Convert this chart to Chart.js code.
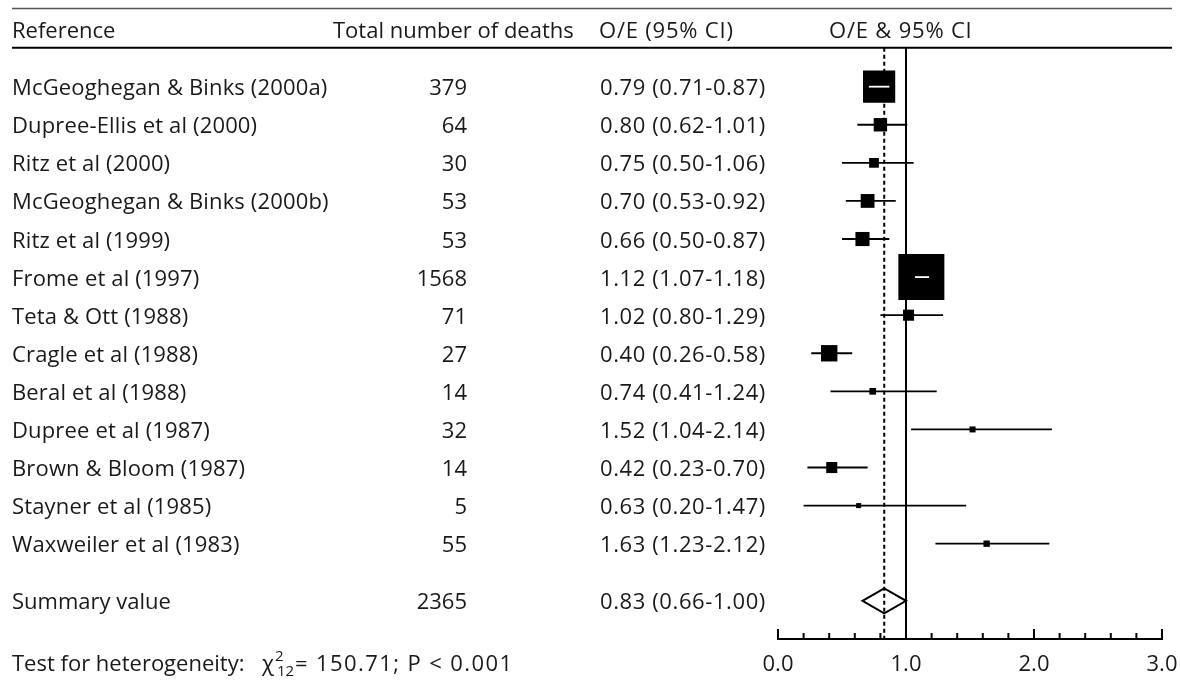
<!DOCTYPE html>
<html>
<head>
<meta charset="utf-8">
<title>Forest plot O/E</title>
<style>
  html, body { margin: 0; padding: 0; background: #fff; }
  #wrap { width: 1180px; height: 682px; }
</style>
</head>
<body>
<div id="wrap">
  <canvas id="forestChart" width="1180" height="682"></canvas>
</div>

<script src="https://cdn.jsdelivr.net/npm/chart.js"></script>

<script>
  // study data
  const studies = [
    'McGeoghegan & Binks (2000a)', 'Dupree-Ellis et al (2000)', 'Ritz et al (2000)',
    'McGeoghegan & Binks (2000b)', 'Ritz et al (1999)', 'Frome et al (1997)',
    'Teta & Ott (1988)', 'Cragle et al (1988)', 'Beral et al (1988)',
    'Dupree et al (1987)', 'Brown & Bloom (1987)', 'Stayner et al (1985)',
    'Waxweiler et al (1983)'
  ];
  const deaths = [379, 64, 30, 53, 53, 1568, 71, 27, 14, 32, 14, 5, 55];
  const oe    = [0.79, 0.80, 0.75, 0.70, 0.66, 1.12, 1.02, 0.40, 0.74, 1.52, 0.42, 0.63, 1.63];
  const lower = [0.71, 0.62, 0.50, 0.53, 0.50, 1.07, 0.80, 0.26, 0.41, 1.04, 0.23, 0.20, 1.23];
  const upper = [0.87, 1.01, 1.06, 0.92, 0.87, 1.18, 1.29, 0.58, 1.24, 2.14, 0.70, 1.47, 2.12];
  // relative box weight (%), largest study = 100
  const weights = [49.0, 8.5, 4.5, 9.0, 9.4, 100, 5.8, 12.7, 2.1, 1.7, 5.8, 1.2, 1.9];

  const summaryLabel = 'Summary value';
  const summaryDeaths = 2365;
  const summaryOE = [0.83, 0.66, 1.00]; // estimate, lower, upper

  const headers = ['Reference', 'Total number of deaths', 'O/E (95% CI)', 'O/E & 95% CI'];
  const majorTicks = [0, 1, 2, 3];
  const tickLabels = ['0.0', '1.0', '2.0', '3.0'];
  const heterogeneity = { label: 'Test for heterogeneity:', df: '12', rest: '= 150.71; P < 0.001' };

  const FONT = '"Open Sans", "Noto Sans", sans-serif';
  const TEXT = '#1a1a1a';
  const BOX_MAX = 46;            // px side of the heaviest study
  const summaryRow = studies.length + 0.5;
  const fmt = (e, l, u) => `${e.toFixed(2)} (${l.toFixed(2)}-${u.toFixed(2)})`;
  const boxSide = w => Math.sqrt(w / 100) * BOX_MAX;

  // CI whiskers as one broken line
  const ciData = [];
  oe.forEach((v, i) => {
    ciData.push({ x: lower[i], y: i }, { x: upper[i], y: i }, { x: null, y: null });
  });

  const forestPlugin = {
    id: 'forestText',
    afterDatasetsDraw(chart) {
      const { ctx, scales: { x, y } } = chart;
      ctx.save();

      // white CI line inside boxes that are wider than their interval
      ctx.strokeStyle = '#fff';
      ctx.lineWidth = 1.8;
      oe.forEach((v, i) => {
        const half = boxSide(weights[i]) / 2;
        const cx = x.getPixelForValue(v);
        const x0 = x.getPixelForValue(lower[i]);
        const x1 = x.getPixelForValue(upper[i]);
        if (x0 > cx - half && x1 < cx + half) {
          const py = y.getPixelForValue(i);
          ctx.beginPath();
          ctx.moveTo(x0, py);
          ctx.lineTo(x1, py);
          ctx.stroke();
        }
      });

      // summary diamond
      const sy = y.getPixelForValue(summaryRow);
      ctx.strokeStyle = '#000';
      ctx.lineWidth = 2;
      ctx.beginPath();
      ctx.moveTo(x.getPixelForValue(summaryOE[1]), sy);
      ctx.lineTo(x.getPixelForValue(summaryOE[0]), sy - 12.5);
      ctx.lineTo(x.getPixelForValue(summaryOE[2]), sy);
      ctx.lineTo(x.getPixelForValue(summaryOE[0]), sy + 12.5);
      ctx.closePath();
      ctx.stroke();

      // x axis with ticks pointing up
      const ay = y.getPixelForValue(y.max);
      ctx.lineWidth = 2;
      ctx.beginPath();
      ctx.moveTo(x.getPixelForValue(x.min) - 1, ay);
      ctx.lineTo(x.getPixelForValue(x.max) + 1, ay);
      for (let t = 0; t <= 15; t++) {
        const v = t / 5;
        const px = x.getPixelForValue(v);
        const len = majorTicks.includes(v) ? 10 : 6;
        ctx.moveTo(px, ay);
        ctx.lineTo(px, ay - len);
      }
      ctx.stroke();

      ctx.fillStyle = TEXT;
      ctx.font = `22px ${FONT}`;
      ctx.textBaseline = 'alphabetic';
      ctx.textAlign = 'center';
      majorTicks.forEach((v, k) => ctx.fillText(tickLabels[k], x.getPixelForValue(v), 670.5));

      // header rules
      const top = y.getPixelForValue(-2.05);
      const mid = y.getPixelForValue(-1.02);
      ctx.strokeStyle = '#555';
      ctx.lineWidth = 1.5;
      ctx.beginPath(); ctx.moveTo(12, top); ctx.lineTo(1172, top); ctx.stroke();
      ctx.strokeStyle = '#000';
      ctx.lineWidth = 2;
      ctx.beginPath(); ctx.moveTo(12, mid); ctx.lineTo(1172, mid); ctx.stroke();

      // header text
      const hy = y.getPixelForValue(-1.5) + 8.5;
      ctx.textAlign = 'left';
      ctx.fillText(headers[0], 12, hy);
      ctx.fillText(headers[1], 333, hy);
      ctx.letterSpacing = '0.8px';
      ctx.fillText(headers[2], 599, hy);
      ctx.fillText(headers[3], 829, hy);
      ctx.letterSpacing = '0px';

      // table rows
      studies.forEach((name, i) => {
        const py = y.getPixelForValue(i) + 8.5;
        ctx.textAlign = 'left';
        ctx.letterSpacing = '0.15px';
        ctx.fillText(name, 12, py);
        ctx.letterSpacing = '0.6px';
        ctx.fillText(fmt(oe[i], lower[i], upper[i]), 600, py);
        ctx.textAlign = 'right';
        ctx.letterSpacing = '0px';
        ctx.fillText(String(deaths[i]), 467, py);
      });
      const sty = sy + 8.5;
      ctx.textAlign = 'left';
      ctx.fillText(summaryLabel, 12, sty);
      ctx.letterSpacing = '0.6px';
      ctx.fillText(fmt(...summaryOE), 600, sty);
      ctx.letterSpacing = '0px';
      ctx.textAlign = 'right';
      ctx.fillText(String(summaryDeaths), 467, sty);

      // heterogeneity line
      ctx.textAlign = 'left';
      ctx.fillText(heterogeneity.label, 12, 670.5);
      ctx.fillText('\u03C7', 262, 670.5);
      ctx.letterSpacing = '1.4px';
      ctx.fillText(heterogeneity.rest, 295, 670.5);
      ctx.letterSpacing = '0px';
      ctx.font = `15px ${FONT}`;
      ctx.fillText('2', 275, 661);
      ctx.fillText(heterogeneity.df, 277, 676);

      ctx.restore();
    }
  };

  const ctx = document.getElementById('forestChart').getContext('2d');
  new Chart(ctx, {
    type: 'scatter',
    data: {
      datasets: [
        {
          // null line at O/E = 1
          data: [{ x: 1, y: -1.02 }, { x: 1, y: 14.5 }],
          showLine: true, borderColor: '#000', borderWidth: 2, pointRadius: 0, order: 5
        },
        {
          // pooled estimate
          data: [{ x: summaryOE[0], y: -1.02 }, { x: summaryOE[0], y: 14.5 }],
          showLine: true, borderColor: '#000', borderWidth: 2, borderDash: [4, 3], pointRadius: 0, order: 4
        },
        {
          data: ciData,
          showLine: true, spanGaps: false, borderColor: '#000', borderWidth: 1.8, pointRadius: 0, order: 3
        },
        {
          data: oe.map((v, i) => ({ x: v, y: i })),
          pointStyle: 'rect',
          pointRadius: weights.map(w => boxSide(w) / Math.SQRT2),
          backgroundColor: '#000', borderWidth: 0, order: 1
        }
      ]
    },
    options: {
      responsive: false,
      animation: false,
      events: [],
      layout: { autoPadding: false, padding: { left: 778, right: 18, top: 2.9, bottom: 43.1 } },
      scales: {
        x: { type: 'linear', min: 0, max: 3, display: false },
        y: { type: 'linear', min: -2.2, max: 14.5, reverse: true, display: false }
      },
      plugins: { legend: { display: false }, tooltip: { enabled: false } }
    },
    plugins: [forestPlugin]
  });
</script>
</body>
</html>
